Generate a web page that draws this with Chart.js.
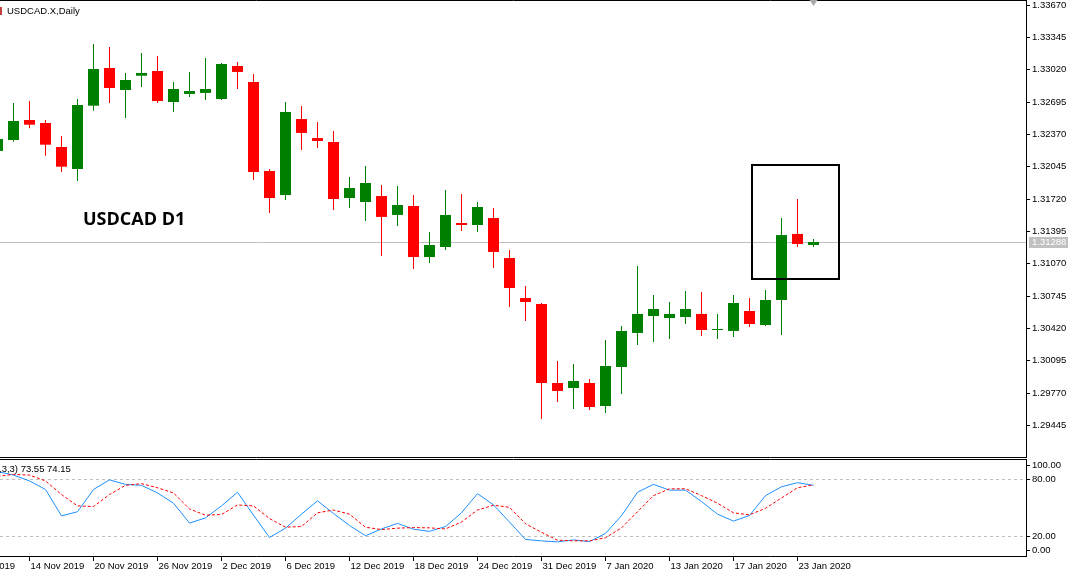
<!DOCTYPE html>
<html><head><meta charset="utf-8">
<script src="https://cdn.jsdelivr.net/npm/chart.js@4.4.1/dist/chart.umd.min.js"></script>
<style>
html,body{margin:0;padding:0;background:#fff;overflow:hidden}
#wrap{position:relative;width:1075px;height:573px;background:#fff}
#main{position:absolute;left:0;top:0}
#stoch{position:absolute;left:0;top:458px}
</style></head><body>
<div id="wrap">
<canvas id="main" width="1075" height="458"></canvas>
<canvas id="stoch" width="1075" height="115"></canvas>
</div>
<script>
// ---------------- data ----------------
const symbolTitle = 'USDCAD.X,Daily';
const chartNote = 'USDCAD D1';
const earlierDates = ['8 Nov 2019', '11 Nov 2019'];
const dates = ['12 Nov 2019','13 Nov 2019','14 Nov 2019','15 Nov 2019','18 Nov 2019','19 Nov 2019','20 Nov 2019','21 Nov 2019','22 Nov 2019','25 Nov 2019','26 Nov 2019','27 Nov 2019','28 Nov 2019','29 Nov 2019',
 '2 Dec 2019','3 Dec 2019','4 Dec 2019','5 Dec 2019','6 Dec 2019','9 Dec 2019','10 Dec 2019','11 Dec 2019','12 Dec 2019','13 Dec 2019','16 Dec 2019','17 Dec 2019','18 Dec 2019','19 Dec 2019','20 Dec 2019','23 Dec 2019','24 Dec 2019','26 Dec 2019','27 Dec 2019','30 Dec 2019','31 Dec 2019',
 '2 Jan 2020','3 Jan 2020','6 Jan 2020','7 Jan 2020','8 Jan 2020','9 Jan 2020','10 Jan 2020','13 Jan 2020','14 Jan 2020','15 Jan 2020','16 Jan 2020','17 Jan 2020','20 Jan 2020','21 Jan 2020','22 Jan 2020','23 Jan 2020','24 Jan 2020'];
const open  = [1.32203,1.32313,1.32514,1.32484,1.32243,1.32022,1.32658,1.33037,1.32816,1.32959,1.33007,1.32695,1.32776,1.32786,1.32725,1.33057,1.32896,1.32002,1.31760,1.32524,1.32333,1.32293,1.31730,1.31690,1.31750,1.31560,1.31650,1.31137,1.31238,1.31479,1.31459,1.31529,1.31127,1.30725,1.30665,1.29871,1.29821,1.29871,1.29640,1.30032,1.30374,1.30544,1.30524,1.30534,1.30565,1.30404,1.30394,1.30595,1.30454,1.30705,1.31369,1.31258];
const high  = [1.32364,1.32685,1.32705,1.32514,1.32353,1.32725,1.33278,1.33248,1.32987,1.33188,1.33157,1.32896,1.32997,1.33137,1.33087,1.33097,1.32977,1.32022,1.32695,1.32655,1.32494,1.32404,1.31941,1.32052,1.31861,1.31851,1.31760,1.31389,1.31811,1.31770,1.31690,1.31630,1.31208,1.30846,1.30675,1.30092,1.30062,1.29911,1.30303,1.30444,1.31047,1.30755,1.30685,1.30796,1.30786,1.30565,1.30755,1.30725,1.30806,1.31529,1.31720,1.31318];
const low   = [1.32162,1.32296,1.32431,1.32155,1.31992,1.31901,1.32608,1.32685,1.32534,1.32846,1.32685,1.32595,1.32745,1.32715,1.32715,1.32826,1.31911,1.31580,1.31710,1.32213,1.32233,1.31610,1.31630,1.31499,1.31147,1.31449,1.31017,1.31077,1.31208,1.31399,1.31389,1.31027,1.30635,1.30494,1.29509,1.29680,1.29610,1.29600,1.29570,1.29761,1.30253,1.30283,1.30313,1.30464,1.30343,1.30313,1.30333,1.30434,1.30444,1.30354,1.31238,1.31238];
const close = [1.32323,1.32504,1.32467,1.32266,1.32045,1.32665,1.33027,1.32836,1.32916,1.32987,1.32705,1.32826,1.32806,1.32826,1.33077,1.32997,1.31992,1.31730,1.32595,1.32384,1.32303,1.31720,1.31831,1.31881,1.31540,1.31660,1.31137,1.31258,1.31560,1.31459,1.31640,1.31188,1.30826,1.30685,1.29871,1.29791,1.29891,1.29630,1.30042,1.30394,1.30565,1.30615,1.30565,1.30615,1.30404,1.30414,1.30675,1.30464,1.30705,1.31358,1.31268,1.31288];
const stochMain   = [88,84.3,78.2,69.3,41.8,46.1,69.3,79.3,74.6,73.6,65.7,55.0,34.3,39.7,52.2,66.4,42.5,19.3,29.0,43.6,57.5,44.3,31.8,21.1,28.2,34.0,27.9,25.7,30.7,45.0,65.0,53.2,35.4,17.2,15.8,14.7,16.8,15.0,23.5,42.0,66.4,74.6,68.6,68.6,56.8,43.6,36.4,42.2,62.9,72.1,76.4,73.55];
const stochSignal = [83,85,84.3,78.2,64.0,52.2,51.5,64.0,73.6,75.4,71.1,65.7,49.0,42.5,43.2,53.2,52.2,39.0,30.0,30.7,45.0,47.9,43.6,30.0,27.5,29.0,29.6,29.3,28.2,35.4,47.9,52.9,50.7,33.6,24.7,16.5,15.8,15.8,19.0,29.3,46.1,62.9,70.0,70.0,62.9,55.0,45.0,42.9,49.7,60.4,71.1,74.15];
const stochParams = ',3,3)';
const priceTicks = [1.29445,1.29770,1.30095,1.30420,1.30745,1.31070,1.31395,1.31720,1.32045,1.32370,1.32695,1.33020,1.33345,1.33670];
const stochLevels = [100, 80, 20, 0];
const dashedLevels = [80, 20];
const lastPrice = 1.31288;
const priceRange = [1.291274, 1.337102];
const barRange = [0.15625, 64.28125];
const dateLabelEvery = 4;
const firstLabelBar = 2;
// annotation rectangle (bar index / price coordinates)
const highlight = {x0: 47.16, x1: 52.59, p0: 1.32062, p1: 1.30916};

// ---------------- build ----------------
const GREEN = '#008000', RED = '#FF0000';
const barColors = close.map((c, i) => c >= open[i] ? GREEN : RED);
const bodyData = dates.map((d, i) => ({x: i, y: [open[i], close[i]]}));
const wickData = dates.map((d, i) => ({x: i, y: [low[i], high[i]]}));
const labelFor = v => v >= 0 ? dates[v] : earlierDates[earlierDates.length + v];
const tickBars = [];
for (let i = firstLabelBar - dateLabelEvery; i < dates.length; i += dateLabelEvery) tickBars.push(i);

Chart.defaults.font.family = '"Liberation Sans", Arial, sans-serif';
Chart.defaults.color = '#000';

const mainDecor = {
  id: 'mainDecor',
  beforeDatasetsDraw(chart) {
    const {ctx, chartArea: a, scales: {y}} = chart;
    const py = Math.floor(y.getPixelForValue(lastPrice)) + 0.5;
    ctx.save();
    ctx.strokeStyle = '#C0C0C0'; ctx.lineWidth = 1;
    ctx.beginPath(); ctx.moveTo(a.left, py); ctx.lineTo(a.right, py); ctx.stroke();
    ctx.restore();
  },
  afterDraw(chart) {
    const {ctx, chartArea: a, scales: {x, y}} = chart;
    ctx.save();
    // highlight box
    ctx.strokeStyle = '#000'; ctx.lineWidth = 2;
    const bx0 = Math.round(x.getPixelForValue(highlight.x0)), bx1 = Math.round(x.getPixelForValue(highlight.x1));
    const by0 = Math.round(y.getPixelForValue(highlight.p0)), by1 = Math.round(y.getPixelForValue(highlight.p1));
    ctx.strokeRect(bx0, by0, bx1 - bx0, by1 - by0);
    // frame
    ctx.lineWidth = 1;
    ctx.beginPath();
    ctx.moveTo(0, 0.5); ctx.lineTo(a.right + 1, 0.5);
    ctx.moveTo(a.right + 0.5, 0); ctx.lineTo(a.right + 0.5, a.bottom + 1);
    ctx.moveTo(0, a.bottom + 0.5); ctx.lineTo(a.right + 1, a.bottom + 0.5);
    ctx.stroke();
    // last price tag
    const py = Math.floor(y.getPixelForValue(lastPrice));
    ctx.fillStyle = '#C0C0C0';
    ctx.fillRect(a.right + 3, py - 5, 39, 11);
    ctx.fillStyle = '#FFFFFF';
    ctx.font = '9.5px "Liberation Sans"';
    ctx.textBaseline = 'middle'; ctx.textAlign = 'left';
    ctx.fillText(lastPrice.toFixed(5), a.right + 6, py + 0.5);
    // shift marker
    const tx = x.getPixelForValue(dates.length - 1);
    ctx.fillStyle = '#A8A8A8';
    ctx.beginPath(); ctx.moveTo(tx - 4, 0); ctx.lineTo(tx + 4, 0); ctx.lineTo(tx, 6); ctx.closePath(); ctx.fill();
    // titles
    ctx.fillStyle = '#C04040'; ctx.fillRect(0, 7, 2, 8);
    ctx.fillStyle = '#000';
    ctx.textBaseline = 'alphabetic';
    ctx.font = '9.5px "Liberation Sans"';
    ctx.fillText(symbolTitle, 7, 14);
    ctx.font = 'bold 18px "Open Sans"';
    ctx.fillText(chartNote, 83, 225);
    ctx.restore();
  }
};

new Chart(document.getElementById('main'), {
  type: 'bar',
  data: {
    datasets: [
      {data: bodyData, backgroundColor: barColors, barThickness: 11, minBarLength: 1, grouped: false, inflateAmount: 0, borderWidth: 0, order: 1},
      {data: wickData, backgroundColor: barColors, barThickness: 1, grouped: false, inflateAmount: 0, borderWidth: 0, order: 2}
    ]
  },
  options: {
    responsive: false, animation: false, devicePixelRatio: 1,
    layout: {padding: {top: 1, bottom: 1, left: 0, right: 0}},
    plugins: {legend: {display: false}, tooltip: {enabled: false}},
    scales: {
      x: {type: 'linear', display: false, offset: false, min: barRange[0], max: barRange[1]},
      y: {
        type: 'linear', position: 'right', min: priceRange[0], max: priceRange[1],
        afterBuildTicks: s => { s.ticks = priceTicks.map(v => ({value: v})); },
        afterFit: s => { s.width = 49; s.paddingTop = 0; s.paddingBottom = 0; },
        ticks: {autoSkip: false, padding: 2, font: {size: 9.5}, color: '#000', callback: v => Number(v).toFixed(5)},
        grid: {display: true, drawOnChartArea: false, drawTicks: true, tickLength: 4, color: '#000'},
        border: {display: false}
      }
    }
  },
  plugins: [mainDecor]
});

const stochDecor = {
  id: 'stochDecor',
  beforeDatasetsDraw(chart) {
    const {ctx, chartArea: a, scales: {y}} = chart;
    ctx.save();
    ctx.strokeStyle = '#C0C0C0'; ctx.lineWidth = 1; ctx.setLineDash([3, 3]);
    dashedLevels.forEach(v => {
      const py = Math.floor(y.getPixelForValue(v)) + 0.5;
      ctx.beginPath(); ctx.moveTo(a.left, py); ctx.lineTo(a.right, py); ctx.stroke();
    });
    ctx.restore();
  },
  afterDraw(chart) {
    const {ctx, chartArea: a, scales: {y}} = chart;
    ctx.save();
    ctx.strokeStyle = '#000'; ctx.lineWidth = 1;
    ctx.beginPath();
    ctx.moveTo(0, a.top - 0.5); ctx.lineTo(a.right + 1, a.top - 0.5);
    ctx.moveTo(a.right + 0.5, a.top - 1); ctx.lineTo(a.right + 0.5, a.bottom + 1);
    ctx.stroke();
    ctx.font = '9.5px "Liberation Sans"';
    ctx.fillStyle = '#000'; ctx.textAlign = 'left'; ctx.textBaseline = 'middle';
    stochLevels.forEach(v => {
      let py = y.getPixelForValue(v);
      py = Math.min(Math.max(py, a.top + 5), a.bottom - 6);
      const ry = Math.floor(py) + 0.5;
      ctx.beginPath(); ctx.moveTo(a.right, ry); ctx.lineTo(a.right + 4, ry); ctx.stroke();
      ctx.fillText(v.toFixed(2), a.right + 6, py);
    });
    ctx.textBaseline = 'alphabetic';
    const n = stochMain.length - 1;
    ctx.fillText(stochParams + ' ' + stochMain[n].toFixed(2) + ' ' + stochSignal[n].toFixed(2), -1, 14);
    ctx.restore();
  }
};

new Chart(document.getElementById('stoch'), {
  type: 'line',
  data: {
    datasets: [
      {data: stochMain.map((v, i) => ({x: i, y: v})), borderColor: '#1E90FF', borderWidth: 1, pointRadius: 0, tension: 0, fill: false, order: 2},
      {data: stochSignal.map((v, i) => ({x: i, y: v})), borderColor: '#FF0000', borderWidth: 1, borderDash: [3, 2], pointRadius: 0, tension: 0, fill: false, order: 1}
    ]
  },
  options: {
    responsive: false, animation: false, devicePixelRatio: 1,
    layout: {padding: {top: 2, bottom: 0, left: 0, right: 0}},
    plugins: {legend: {display: false}, tooltip: {enabled: false}},
    scales: {
      x: {
        type: 'linear', offset: false, min: barRange[0], max: barRange[1],
        afterBuildTicks: s => { s.ticks = tickBars.map(v => ({value: v})); },
        afterFit: s => { s.height = 17; s.paddingLeft = 0; s.paddingRight = 0; },
        ticks: {autoSkip: false, maxRotation: 0, minRotation: 0, align: 'start', labelOffset: 1, padding: 0, font: {size: 9.5}, color: '#000', callback: v => labelFor(v)},
        grid: {display: true, drawOnChartArea: false, drawTicks: true, tickLength: 5, color: '#000'},
        border: {display: true, color: '#000', width: 1}
      },
      y: {
        type: 'linear', position: 'right', min: 0, max: 100,
        afterFit: s => { s.width = 49; s.paddingTop = 0; s.paddingBottom = 0; },
        ticks: {display: false},
        grid: {display: false},
        border: {display: false}
      }
    }
  },
  plugins: [stochDecor]
});
</script>
</body></html>
